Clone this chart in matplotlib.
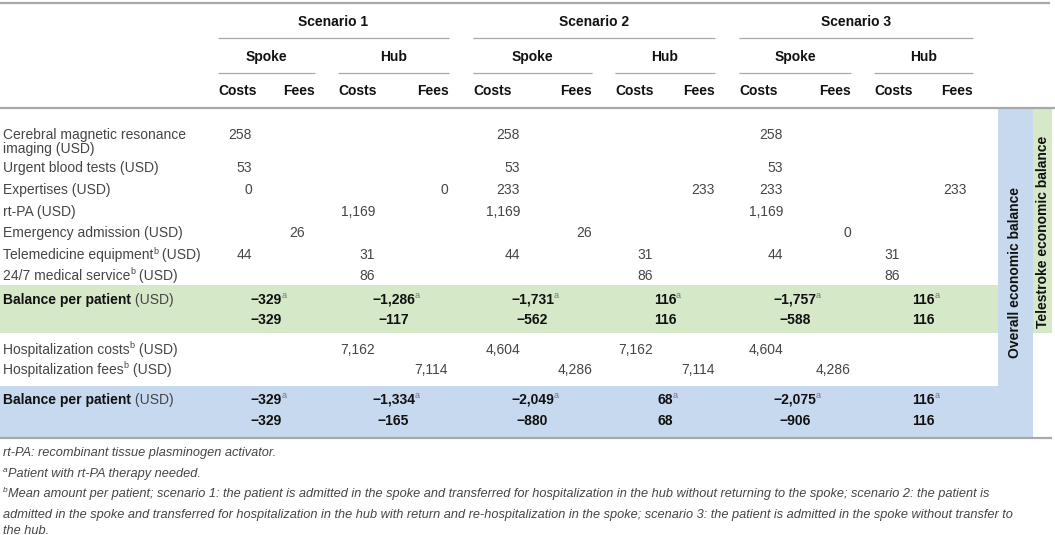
import matplotlib
matplotlib.use("Agg")
import matplotlib.pyplot as plt
from matplotlib.patches import Rectangle

# ---------------- data ----------------
scenarios = ["Scenario 1", "Scenario 2", "Scenario 3"]
sites = ["Spoke", "Hub"]
subcols = ["Costs", "Fees"]

row_labels = [
    ["Cerebral magnetic resonance", "imaging (USD)"],
    ["Urgent blood tests (USD)"],
    ["Expertises (USD)"],
    ["rt-PA (USD)"],
    ["Emergency admission (USD)"],
    ["Telemedicine equipment", "b", " (USD)"],
    ["24/7 medical service", "b", " (USD)"],
]
# 12 columns: S1 spoke costs, S1 spoke fees, S1 hub costs, S1 hub fees, S2 ..., S3 ...
row_values = [
    ["258", None, None, None, "258", None, None, None, "258", None, None, None],
    ["53", None, None, None, "53", None, None, None, "53", None, None, None],
    ["0", None, None, "0", "233", None, None, "233", "233", None, None, "233"],
    [None, None, "1,169", None, "1,169", None, None, None, "1,169", None, None, None],
    [None, "26", None, None, None, "26", None, None, None, "0", None, None],
    ["44", None, "31", None, "44", None, "31", None, "44", None, "31", None],
    [None, None, "86", None, None, None, "86", None, None, None, "86", None],
]
tele_balance_a = ["\u2212329", "\u22121,286", "\u22121,731", "116", "\u22121,757", "116"]
tele_balance = ["\u2212329", "\u2212117", "\u2212562", "116", "\u2212588", "116"]

hosp_labels = ["Hospitalization costs", "Hospitalization fees"]
hosp_values = [
    [None, None, "7,162", None, "4,604", None, "7,162", None, "4,604", None, None, None],
    [None, None, None, "7,114", None, "4,286", None, "7,114", None, "4,286", None, None],
]
overall_balance_a = ["\u2212329", "\u22121,334", "\u22122,049", "68", "\u22122,075", "116"]
overall_balance = ["\u2212329", "\u2212165", "\u2212880", "68", "\u2212906", "116"]

side_labels = ["Overall economic balance", "Telestroke economic balance"]

footnotes = [
    [("", None), ("rt-PA: recombinant tissue plasminogen activator.", None)],
    [("a", "sup"), ("Patient with rt-PA therapy needed.", None)],
    [("b", "sup"), ("Mean amount per patient; scenario 1: the patient is admitted in the spoke and transferred for hospitalization in the hub without returning to the spoke; scenario 2: the patient is", None)],
    [("", None), ("admitted in the spoke and transferred for hospitalization in the hub with return and re-hospitalization in the spoke; scenario 3: the patient is admitted in the spoke without transfer to", None)],
    [("", None), ("the hub.", None)],
]

# ---------------- layout ----------------
W, H = 1055, 535
FONT = "Liberation Sans"
FS = 10
BODY = "#454545"
BOLD = "#111111"
RULE = "#a8a8a8"
GREEN = "#d5e8c8"
BLUE = "#c7d9ee"

fig = plt.figure(figsize=(W / 100, H / 100), dpi=100)
ax = fig.add_axes([0, 0, 1, 1])
ax.set_xlim(0, W)
ax.set_ylim(H, 0)
ax.axis("off")
renderer = fig.canvas.get_renderer()

site_spans = [(218, 315), (338, 449), (473, 592), (615, 715), (739, 851), (874, 973)]
scen_spans = [(218, 449), (473, 715), (739, 973)]
col_right = [252, 305, 375, 448, 520, 592, 653, 715, 783, 851, 900, 967]


def txt(x, y, s, weight="normal", color=BODY, size=FS, ha="left", style="normal", **kw):
    return ax.text(x, y, s, fontsize=size, fontfamily=FONT, fontweight=weight,
                   color=color, ha=ha, va="center", fontstyle=style, **kw)


def width(t):
    return t.get_window_extent(renderer).width


def runs(x, y, parts, ha="left"):
    """parts: list of (text, kwargs, dy). Places sequentially."""
    arts = []
    ws = []
    for s, kw, dy in parts:
        t = txt(0, 0, s, **kw)
        arts.append((t, dy))
        ws.append(width(t))
    total = sum(ws)
    cur = x if ha == "left" else (x - total / 2 if ha == "center" else x - total)
    for (t, dy), w in zip(arts, ws):
        t.set_position((cur, y + dy))
        cur += w


# backgrounds
ax.add_patch(Rectangle((0, 285), 998, 48, color=GREEN, lw=0))
ax.add_patch(Rectangle((0, 386), 998, 51, color=BLUE, lw=0))
ax.add_patch(Rectangle((998, 108), 35, 329, color=BLUE, lw=0))
ax.add_patch(Rectangle((1033, 108), 19, 225, color=GREEN, lw=0))

# rules
ax.plot([0, 1050], [2.5, 2.5], color=RULE, lw=1.6, solid_capstyle="butt")
ax.plot([0, 1055], [107.5, 107.5], color=RULE, lw=1.6, solid_capstyle="butt")
ax.plot([0, 1052], [438, 438], color=RULE, lw=1.6, solid_capstyle="butt")
for a, b in scen_spans:
    ax.plot([a, b], [38, 38], color=RULE, lw=0.9, solid_capstyle="butt")
for a, b in site_spans:
    ax.plot([a, b], [73, 73], color=RULE, lw=0.9, solid_capstyle="butt")

# headers
for (a, b), s in zip(scen_spans, scenarios):
    txt((a + b) / 2, 22, s, weight="bold", color=BOLD, ha="center")
for i, (a, b) in enumerate(site_spans):
    txt((a + b) / 2, 57, sites[i % 2], weight="bold", color=BOLD, ha="center")
    txt(a, 91, subcols[0], weight="bold", color=BOLD, ha="left")
    txt(b, 91, subcols[1], weight="bold", color=BOLD, ha="right")

# body rows
row_y = [135, 168, 190, 212, 233, 255, 276]
for y, lab, vals in zip(row_y, row_labels, row_values):
    if len(lab) == 2:
        txt(3, y, lab[0])
        txt(3, y + 13.5, lab[1])
    elif len(lab) == 3:
        runs(3, y, [(lab[0], {}, 0), (lab[1], {"size": 6.5}, -4), (lab[2], {}, 0)])
    else:
        txt(3, y, lab[0])
    for c, v in enumerate(vals):
        if v is not None:
            txt(col_right[c], y, v, ha="right")


def balance_block(y1, y2, vals_a, vals):
    runs(3, y1, [("Balance per patient", {"weight": "bold", "color": BOLD}, 0), (" (USD)", {}, 0)])
    for (a, b), va, vb in zip(site_spans, vals_a, vals):
        cx = (a + b) / 2
        t = txt(cx, y1, va, weight="bold", color=BOLD, ha="center")
        w = width(t)
        txt(cx + w / 2 - 0.5, y1 - 4, "a", size=6.5, color="#777777")
        txt(cx, y2, vb, weight="bold", color=BOLD, ha="center")


balance_block(300, 320, tele_balance_a, tele_balance)

for y, lab, vals in zip([350, 370], hosp_labels, hosp_values):
    runs(3, y, [(lab, {}, 0), ("b", {"size": 6.5}, -4), (" (USD)", {}, 0)])
    for c, v in enumerate(vals):
        if v is not None:
            txt(col_right[c], y, v, ha="right")

balance_block(400, 421, overall_balance_a, overall_balance)

# side labels
txt(1015, 273, side_labels[0], weight="bold", color=BOLD, ha="center", rotation=90)
txt(1043, 232, side_labels[1], weight="bold", color=BOLD, ha="center", rotation=90)

# footnotes
FN = 9.2
for y, parts in zip([453, 474, 494, 515, 531], footnotes):
    p = []
    for s, kind in parts:
        if not s:
            continue
        if kind == "sup":
            p.append((s, {"size": 6, "style": "italic"}, -3.5))
        else:
            p.append((s, {"size": FN, "style": "italic"}, 0))
    runs(3, y, p)

fig.savefig("out.png", dpi=100)
